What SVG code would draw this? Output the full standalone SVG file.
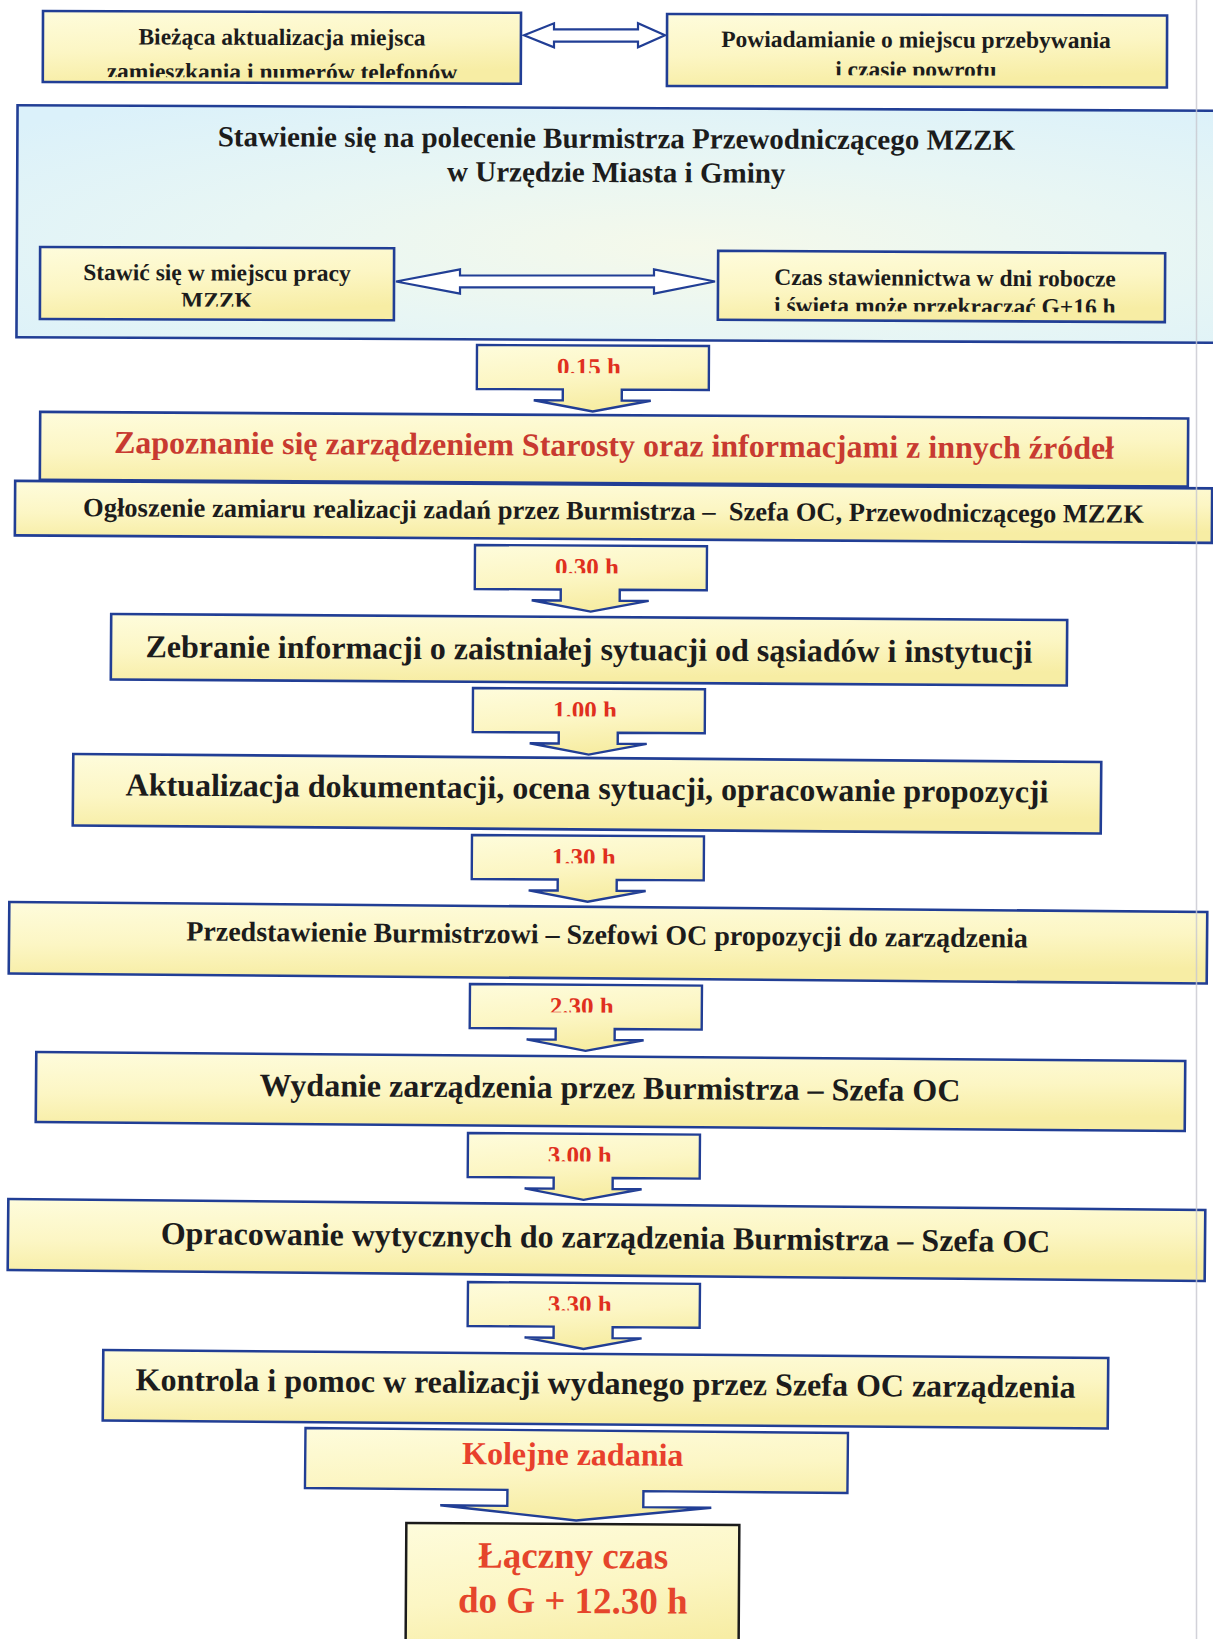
<svg xmlns="http://www.w3.org/2000/svg" width="1213" height="1639" viewBox="0 0 1213 1639">
<defs>
<style>
.bx{fill:url(#yel);stroke:#213e95;stroke-width:2.6}
.t{font-family:"Liberation Serif","Times New Roman",serif;font-weight:bold;text-anchor:middle;fill:#1c1c1c}
.s{font-size:23.5px}
.m{font-size:32px}
.red{fill:#c83a30}
.lab{font-family:"Liberation Serif","Times New Roman",serif;font-weight:bold;text-anchor:middle;font-size:25px;fill:#e0301e}
.arr{fill:url(#yel);stroke:#213e95;stroke-width:2.4;stroke-linejoin:miter}
.dbl{fill:#ffffff;stroke:#213e95;stroke-width:2.2}
</style>
<linearGradient id="yel" x1="0" y1="0" x2="0.3" y2="1">
<stop offset="0" stop-color="#fefcdc"/>
<stop offset="0.55" stop-color="#fcf6c4"/>
<stop offset="1" stop-color="#f7eda4"/>
</linearGradient>
<radialGradient id="blu" cx="0.55" cy="0.6" r="0.75">
<stop offset="0" stop-color="#f5f9ea"/>
<stop offset="0.5" stop-color="#e8f6f4"/>
<stop offset="1" stop-color="#dbf1fa"/>
</radialGradient>
<clipPath id="cb1"><rect x="0" y="0" width="1213" height="77.7"/></clipPath>
<clipPath id="cb2"><rect x="0" y="0" width="1213" height="75.5"/></clipPath>
<clipPath id="cb3"><rect x="0" y="0" width="1213" height="306.7"/></clipPath>
<clipPath id="cb4"><rect x="0" y="0" width="1213" height="311.7"/></clipPath>
<clipPath id="lc"><rect x="0" y="0" width="232" height="27.7"/></clipPath>
<path id="dn" d="M0,0 H232 V44 H145 V55 H174 L116,66 L57,55 H86 V44 H0 Z"/>
</defs>

<rect x="0" y="0" width="1213" height="1639" fill="#ffffff"/>

<g id="nodes">
<g id="n-biezaca" transform="rotate(0.2 281.9 47.4)">
<rect class="bx" x="42.9" y="11.9" width="478" height="71"/>
<text class="t s" x="282" y="45">Bieżąca aktualizacja miejsca</text>
<text class="t s" x="282" y="79.7" clip-path="url(#cb1)">zamieszkania i numerów telefonów</text>
</g>
<g id="n-powiadamianie" transform="rotate(0.17 917 50.75)">
<rect class="bx" x="667" y="14.75" width="500" height="72"/>
<text class="t s" x="916" y="47.5">Powiadamianie o miejscu przebywania</text>
<text class="t s" x="916" y="77.5" clip-path="url(#cb2)">i czasie powrotu</text>
</g>
<g id="n-stawienie" transform="rotate(0.27 615 224)">
<rect x="17" y="108" width="1230" height="232" fill="url(#blu)" stroke="#213e95" stroke-width="2.6"/>
<text class="t" style="font-size:29px" x="616" y="148">Stawienie się na polecenie Burmistrza Przewodniczącego MZZK</text>
<text class="t" style="font-size:29px" x="616" y="182">w Urzędzie Miasta i Gminy</text>
</g>
<g id="n-stawic" transform="rotate(0.2 217 283.6)">
<rect class="bx" x="40" y="247.6" width="354" height="72"/>
<text class="t s" x="217" y="280.5">Stawić się w miejscu pracy</text>
<text class="t s" x="217" y="308.5" clip-path="url(#cb3)">MZZK</text>
</g>
<g id="n-czas" transform="rotate(0.3 941.5 286.5)">
<rect class="bx" x="718" y="252" width="447" height="69"/>
<text class="t s" x="945" y="285.7">Czas stawiennictwa w dni robocze</text>
<text class="t s" x="945" y="314" clip-path="url(#cb4)">i święta może przekraczać G+16 h</text>
</g>
<g id="n-zapoznanie" transform="rotate(0.33 614 449.2)">
<rect class="bx" x="40" y="415.2" width="1148" height="68"/>
<text class="t m red" x="614" y="456">Zapoznanie się zarządzeniem Starosty oraz informacjami z innych źródeł</text>
</g>
<g id="n-ogloszenie" transform="rotate(0.36 613.5 511.9)">
<rect class="bx" x="15" y="484.65" width="1197" height="54.5"/>
<text class="t" style="font-size:26.5px" x="613.5" y="519.5" xml:space="preserve">Ogłoszenie zamiaru realizacji zadań przez Burmistrza –  Szefa OC, Przewodniczącego MZZK</text>
</g>
<g id="n-zebranie" transform="rotate(0.36 589 649.75)">
<rect class="bx" x="111" y="617" width="956" height="65.5"/>
<text class="t m" x="589" y="660">Zebranie informacji o zaistniałej sytuacji od sąsiadów i instytucji</text>
</g>
<g id="n-aktualizacja" transform="rotate(0.45 587 793.75)">
<rect class="bx" x="73" y="758" width="1028" height="71.5"/>
<text class="t m" x="587" y="799">Aktualizacja dokumentacji, ocena sytuacji, opracowanie propozycji</text>
</g>
<g id="n-przedstawienie" transform="rotate(0.48 608 942.75)">
<rect class="bx" x="9" y="907" width="1198" height="71.5"/>
<text class="t" style="font-size:28px" x="607" y="944">Przedstawienie Burmistrzowi – Szefowi OC propozycji do zarządzenia</text>
</g>
<g id="n-wydanie" transform="rotate(0.45 610.5 1091.5)">
<rect class="bx" x="36" y="1056.5" width="1149" height="70"/>
<text class="t m" x="610" y="1098.5">Wydanie zarządzenia przez Burmistrza – Szefa OC</text>
</g>
<g id="n-opracowanie" transform="rotate(0.53 606.5 1240)">
<rect class="bx" x="8" y="1204.5" width="1197" height="71"/>
<text class="t m" x="605.5" y="1248">Opracowanie wytycznych do zarządzenia Burmistrza – Szefa OC</text>
</g>
<g id="n-kontrola" transform="rotate(0.46 605.5 1389.25)">
<rect class="bx" x="103" y="1354" width="1005" height="70.5"/>
<text class="t m" x="605.5" y="1394">Kontrola i pomoc w realizacji wydanego przez Szefa OC zarządzenia</text>
</g>
<g id="n-laczny" transform="rotate(0.35 572.5 1580)">
<rect x="406" y="1524" width="333" height="140" fill="url(#yel)" stroke="#1b1b1b" stroke-width="2.5"/>
<text class="t" style="font-size:37px;fill:#e5452b" x="573" y="1568">Łączny czas</text>
<text class="t" style="font-size:37px;fill:#e5452b" x="573" y="1613">do G + 12.30 h</text>
</g>
</g>

<g id="connectors">
<path id="c-top" class="dbl" d="M524,35.3 L554,23.3 L554,29.3 L638,29.3 L638,23.3 L665,35.3 L638,47.3 L638,41.7 L554,41.7 L554,47.3 Z"/>
<path id="c-mid" class="dbl" d="M396,281.5 L460,269.3 L460,275.5 L654,275.5 L654,269.3 L715,281.5 L654,293.7 L654,287.3 L460,287.3 L460,293.7 Z"/>
<g id="a-015" transform="translate(477 345) rotate(0.25)">
<use href="#dn" class="arr"/>
<text class="lab" x="112" y="30" clip-path="url(#lc)">0.15 h</text>
</g>
<g id="a-030" transform="translate(475 545) rotate(0.3)">
<use href="#dn" class="arr"/>
<text class="lab" x="112" y="30" clip-path="url(#lc)">0.30 h</text>
</g>
<g id="a-100" transform="translate(473 688) rotate(0.3)">
<use href="#dn" class="arr"/>
<text class="lab" x="112" y="30" clip-path="url(#lc)">1.00 h</text>
</g>
<g id="a-130" transform="translate(472 835) rotate(0.35)">
<use href="#dn" class="arr"/>
<text class="lab" x="112" y="30" clip-path="url(#lc)">1.30 h</text>
</g>
<g id="a-230" transform="translate(470 984) rotate(0.4)">
<use href="#dn" class="arr"/>
<text class="lab" x="112" y="30" clip-path="url(#lc)">2.30 h</text>
</g>
<g id="a-300" transform="translate(468 1133) rotate(0.4)">
<use href="#dn" class="arr"/>
<text class="lab" x="112" y="30" clip-path="url(#lc)">3.00 h</text>
</g>
<g id="a-330" transform="translate(468 1282) rotate(0.45)">
<use href="#dn" class="arr"/>
<text class="lab" x="112" y="30" clip-path="url(#lc)">3.30 h</text>
</g>
<g id="a-kolejne" transform="translate(305.5 1428) rotate(0.53)">
<path class="arr" d="M0,0 H542.5 V60 H338.5 V76 H406.5 L271.5,90 L135.5,76 H202.5 V60 H0 Z"/>
<text class="t m" style="fill:#e8402c" x="267.5" y="34.5">Kolejne zadania</text>
</g>
</g>

<line x1="1196.5" y1="0" x2="1196.5" y2="1639" stroke="#c8c8d0" stroke-width="1.5" opacity="0.8"/>
</svg>
